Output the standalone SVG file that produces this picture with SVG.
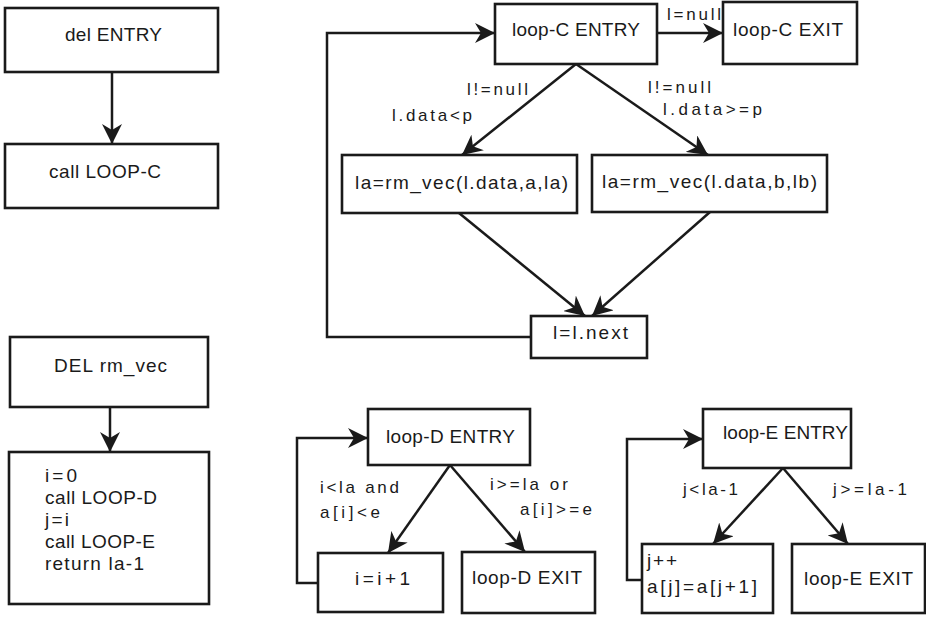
<svg xmlns="http://www.w3.org/2000/svg" width="926" height="617" viewBox="0 0 926 617">
<style>
rect.n{fill:#fff;stroke:#1a1a1a;stroke-width:2.6}
text{font-family:"Liberation Sans",Arial,sans-serif;fill:#1a1a1a}
.t{font-size:19px}
.l{font-size:17px}
.e{fill:none;stroke:#1a1a1a;stroke-width:2.5}
</style>
<defs>
<marker id="ah" markerUnits="userSpaceOnUse" viewBox="0 0 20 20" refX="20" refY="10" markerWidth="20" markerHeight="20" orient="auto">
<path d="M0,0 L20,10 L0,20 L6,10 Z" fill="#1a1a1a"/>
</marker>
</defs>
<rect width="926" height="617" fill="#fff"/>
<g id="connectors">
<line class="e" x1="112" y1="72" x2="112" y2="144" marker-end="url(#ah)"/>
<line class="e" x1="110" y1="407" x2="110" y2="452" marker-end="url(#ah)"/>
<line class="e" x1="657" y1="33" x2="723" y2="33" marker-end="url(#ah)"/>
<line class="e" x1="576" y1="64" x2="462" y2="155" marker-end="url(#ah)"/>
<line class="e" x1="576" y1="64" x2="708" y2="155" marker-end="url(#ah)"/>
<line class="e" x1="459" y1="213" x2="585" y2="316" marker-end="url(#ah)"/>
<line class="e" x1="710" y1="212" x2="592" y2="316" marker-end="url(#ah)"/>
<polyline class="e" points="531,337 327,337 327,33 495,33" marker-end="url(#ah)"/>
<line class="e" x1="450" y1="465" x2="388" y2="553" marker-end="url(#ah)"/>
<line class="e" x1="450" y1="465" x2="525" y2="552" marker-end="url(#ah)"/>
<polyline class="e" points="318,583 297,583 297,438 368,438" marker-end="url(#ah)"/>
<line class="e" x1="783" y1="468" x2="713" y2="544" marker-end="url(#ah)"/>
<line class="e" x1="783" y1="468" x2="848" y2="544" marker-end="url(#ah)"/>
<polyline class="e" points="642,580 627,580 627,439 703,439" marker-end="url(#ah)"/>
<text class="l" x="667" y="20" textLength="54" lengthAdjust="spacing">l=null</text>
<text class="l" x="467" y="95" textLength="61" lengthAdjust="spacing">l!=null</text>
<text class="l" x="392" y="121" textLength="80" lengthAdjust="spacing">l.data&lt;p</text>
<text class="l" x="648" y="93" textLength="63" lengthAdjust="spacing">l!=null</text>
<text class="l" x="663" y="115" textLength="99" lengthAdjust="spacing">l.data&gt;=p</text>
<text class="l" x="320" y="493" textLength="79" lengthAdjust="spacing">i&lt;la and</text>
<text class="l" x="320" y="518" textLength="60" lengthAdjust="spacing">a[i]&lt;e</text>
<text class="l" x="490" y="490" textLength="78" lengthAdjust="spacing">i&gt;=la or</text>
<text class="l" x="520" y="515" textLength="72" lengthAdjust="spacing">a[i]&gt;=e</text>
<text class="l" x="683" y="495" textLength="55" lengthAdjust="spacing">j&lt;la-1</text>
<text class="l" x="833" y="495" textLength="74" lengthAdjust="spacing">j&gt;=la-1</text>
</g>
<g id="del-entry"><rect class="n" x="5" y="8" width="213" height="64"/><text class="t" x="65" y="41" textLength="97" lengthAdjust="spacing">del ENTRY</text></g>
<g id="call-loop-c"><rect class="n" x="5" y="144" width="213" height="64"/><text class="t" x="49" y="178" textLength="112" lengthAdjust="spacing">call LOOP-C</text></g>
<g id="del-rm-vec"><rect class="n" x="10" y="337" width="198" height="70"/><text class="t" x="54" y="372" textLength="113" lengthAdjust="spacing">DEL rm_vec</text></g>
<g id="rm-vec-body"><rect class="n" x="9" y="452" width="200" height="152"/>
<text class="t" x="45" y="482" textLength="32" lengthAdjust="spacing">i=0</text>
<text class="t" x="45" y="504" textLength="112" lengthAdjust="spacing">call LOOP-D</text>
<text class="t" x="45" y="526" textLength="24" lengthAdjust="spacing">j=i</text>
<text class="t" x="45" y="548" textLength="110" lengthAdjust="spacing">call LOOP-E</text>
<text class="t" x="45" y="570" textLength="99" lengthAdjust="spacing">return la-1</text></g>
<g id="loop-c-entry"><rect class="n" x="495" y="4" width="162" height="60"/><text class="t" x="512" y="36" textLength="128" lengthAdjust="spacing">loop-C ENTRY</text></g>
<g id="loop-c-exit"><rect class="n" x="723" y="2" width="134" height="62"/><text class="t" x="733" y="36" textLength="110" lengthAdjust="spacing">loop-C EXIT</text></g>
<g id="rm-vec-a"><rect class="n" x="342" y="155" width="235" height="58"/><text class="t" x="355" y="189" textLength="213" lengthAdjust="spacing">la=rm_vec(l.data,a,la)</text></g>
<g id="rm-vec-b"><rect class="n" x="592" y="155" width="235" height="57"/><text class="t" x="602" y="188" textLength="215" lengthAdjust="spacing">la=rm_vec(l.data,b,lb)</text></g>
<g id="l-next"><rect class="n" x="531" y="316" width="116" height="42"/><text class="t" x="553" y="339" textLength="75" lengthAdjust="spacing">l=l.next</text></g>
<g id="loop-d-entry"><rect class="n" x="368" y="409" width="162" height="56"/><text class="t" x="386" y="443" textLength="129" lengthAdjust="spacing">loop-D ENTRY</text></g>
<g id="i-inc"><rect class="n" x="318" y="553" width="125" height="59"/><text class="t" x="355" y="585" textLength="55" lengthAdjust="spacing">i=i+1</text></g>
<g id="loop-d-exit"><rect class="n" x="462" y="552" width="133" height="61"/><text class="t" x="472" y="584" textLength="110" lengthAdjust="spacing">loop-D EXIT</text></g>
<g id="loop-e-entry"><rect class="n" x="703" y="409" width="148" height="59"/><text class="t" x="723" y="439" textLength="125" lengthAdjust="spacing">loop-E ENTRY</text></g>
<g id="j-inc"><rect class="n" x="642" y="544" width="131" height="69"/><text class="t" x="647" y="567" textLength="30" lengthAdjust="spacing">j++</text><text class="t" x="647" y="593" textLength="110" lengthAdjust="spacing">a[j]=a[j+1]</text></g>
<g id="loop-e-exit"><rect class="n" x="792" y="544" width="133" height="69"/><text class="t" x="804" y="585" textLength="109" lengthAdjust="spacing">loop-E EXIT</text></g>
</svg>
